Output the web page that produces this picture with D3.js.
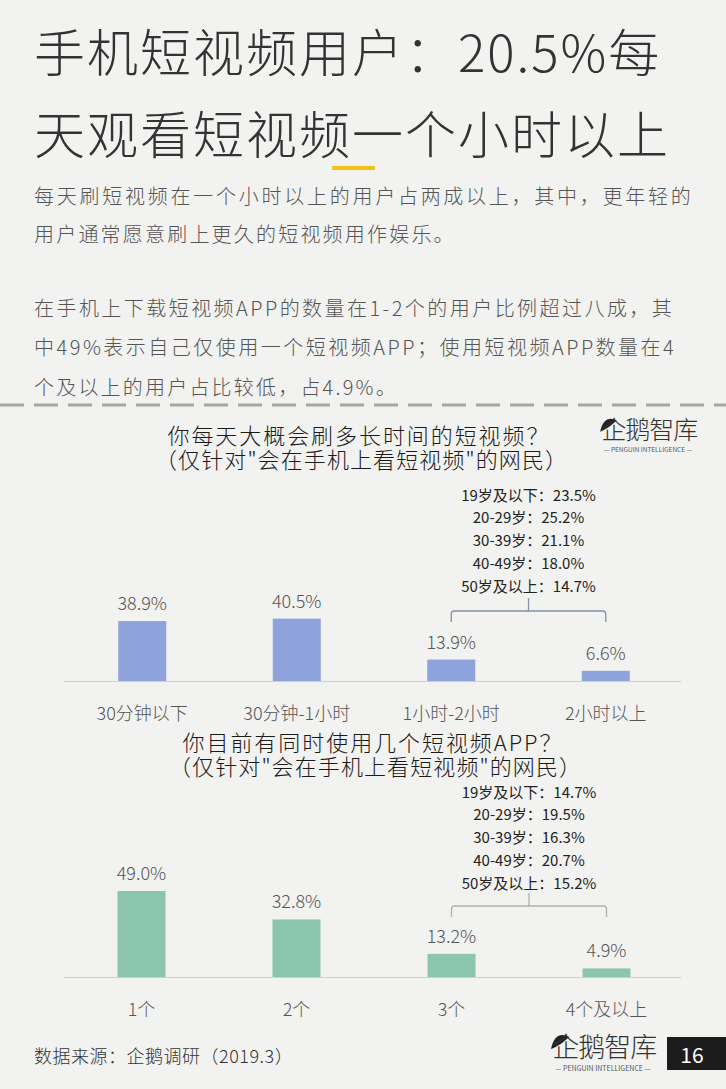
<!DOCTYPE html>
<html>
<head>
<meta charset="utf-8">
<script src="https://cdn.jsdelivr.net/npm/d3@7"></script>
<style>
  body { margin: 0; background: #f2f2f0; }
  svg { display: block; }
  text { font-family: "Noto Sans CJK SC", "Noto Sans", sans-serif; }
</style>
</head>
<body>
<svg width="726" height="1089"></svg>
<script>
// ---- data ----
var headline = ['手机短视频用户：20.5%每', '天观看短视频一个小时以上'];
var paragraph = [
  '每天刷短视频在一个小时以上的用户占两成以上，其中，更年轻的',
  '用户通常愿意刷上更久的短视频用作娱乐。',
  '在手机上下载短视频APP的数量在1-2个的用户比例超过八成，其',
  '中49%表示自己仅使用一个短视频APP；使用短视频APP数量在4',
  '个及以上的用户占比较低，占4.9%。'
];
var ageGroups = ['19岁及以下', '20-29岁', '30-39岁', '40-49岁', '50岁及以上'];

var timeTitle = ['你每天大概会刷多长时间的短视频？', '（仅针对"会在手机上看短视频"的网民）'];
var timeCats = ['30分钟以下', '30分钟-1小时', '1小时-2小时', '2小时以上'];
var timeVals = [38.9, 40.5, 13.9, 6.6];
var timeAgeVals = [23.5, 25.2, 21.1, 18.0, 14.7];

var appTitle = ['你目前有同时使用几个短视频APP？', '（仅针对"会在手机上看短视频"的网民）'];
var appCats = ['1个', '2个', '3个', '4个及以上'];
var appVals = [49.0, 32.8, 13.2, 4.9];
var appAgeVals = [14.7, 19.5, 16.3, 20.7, 15.2];

var sourceText = '数据来源：企鹅调研（2019.3）';
var pageNum = '16';

var svg = d3.select('svg');

// ---- header ----
svg.selectAll('.headline')
    .data(headline)
    .enter()
    .append('text')
    .attr('x', 34)
    .attr('y', function(d, i){ return 50 + i * 82; })
    .attr('dominant-baseline', 'central')
    .attr('font-size', 51)
    .attr('font-weight', 300)
    .attr('letter-spacing', 2)
    .attr('fill', '#333')
    .text(function(d){ return d; });

svg.append('rect')   // little yellow mark under the title
    .attr('x', 332).attr('y', 166)
    .attr('width', 43).attr('height', 4)
    .attr('fill', '#f2c418');

var paraY = [195, 233, 307, 346, 386];
var paraLen = [659, null, 640, 642, null];
svg.selectAll('.para')
    .data(paragraph)
    .enter()
    .append('text')
    .attr('x', 34)
    .attr('y', function(d, i){ return paraY[i]; })
    .attr('dominant-baseline', 'central')
    .attr('font-size', 20)
    .attr('font-weight', 300)
    .attr('fill', '#555')
    .attr('letter-spacing', 2.2)
    .each(function(d, i){
        if (paraLen[i]) d3.select(this).attr('textLength', paraLen[i]).attr('lengthAdjust', 'spacing');
    })
    .text(function(d){ return d; });

svg.append('line')
    .attr('x1', 0).attr('x2', 726)
    .attr('y1', 405).attr('y2', 405)
    .attr('stroke', '#a6a6a6')
    .attr('stroke-width', 3)
    .attr('stroke-dasharray', '24,10');

// ---- logo ----
function logo(x, y, size){
    var g = svg.append('g').attr('transform', 'translate(' + x + ',' + y + ')');
    // rough penguin head
    g.append('path')
        .attr('d', 'M2,' + (size * 0.15) + ' Q6,-' + (size * 0.55) + ' ' + (size * 0.75) + ',-' + (size * 0.3) +
            ' L' + (size * 0.45) + ',-' + (size * 0.05) + ' Q' + (size * 0.2) + ',' + (size * 0.1) + ' 2,' + (size * 0.15) + 'Z')
        .attr('fill', '#222');
    g.append('text')
        .attr('x', size * 2.05)
        .attr('y', 0)
        .attr('text-anchor', 'middle')
        .attr('dominant-baseline', 'central')
        .attr('font-size', size)
        .attr('font-weight', 300)
        .attr('fill', '#333')
        .attr('letter-spacing', -1)
        .text('企鹅智库');
    g.append('text')
        .attr('x', size * 2.0)
        .attr('y', size * 0.85)
        .attr('text-anchor', 'middle')
        .attr('dominant-baseline', 'central')
        .attr('font-size', size * 0.26)
        .attr('fill', '#555')
        .text('— PENGUIN  INTELLIGENCE —');
}
logo(598, 428, 25);
logo(549, 1045, 27);

// ---- bar chart helper ----
function barChart(opt){
    var x = d3.scalePoint()
        .domain(opt.cats)
        .range(opt.xRange)
        .padding(0.5);
    var y = d3.scaleLinear()
        .domain([0, 100])
        .range([opt.base, opt.base - opt.pxPer100]);
    var barW = 48;

    // two-line title as one text block
    svg.append('text')
        .attr('text-anchor', 'middle')
        .attr('dominant-baseline', 'central')
        .attr('font-size', 22)
        .attr('font-weight', 300)
        .attr('fill', '#1a1a1a')
        .selectAll('tspan')
        .data(opt.title)
        .enter()
        .append('tspan')
        .attr('x', function(d, i){ return opt.titleX[i]; })
        .attr('y', function(d, i){ return opt.titleY + i * 24; })
        .attr('textLength', function(d, i){ return opt.titleLen[i]; })
        .attr('lengthAdjust', 'spacing')
        .text(function(d){ return d; });

    svg.append('line')
        .attr('x1', 64).attr('x2', 681)
        .attr('y1', opt.base + 0.5).attr('y2', opt.base + 0.5)
        .attr('stroke', '#cfcfcf')
        .attr('stroke-width', 1.2);

    svg.selectAll(null)
        .data(opt.vals)
        .enter()
        .append('rect')
        .attr('x', function(d, i){ return x(opt.cats[i]) - barW / 2; })
        .attr('y', function(d){ return y(d); })
        .attr('width', barW)
        .attr('height', function(d){ return opt.base - y(d); })
        .attr('fill', opt.color);

    svg.selectAll(null)
        .data(opt.vals)
        .enter()
        .append('text')
        .attr('x', function(d, i){ return x(opt.cats[i]); })
        .attr('y', function(d){ return y(d) - 19; })
        .attr('text-anchor', 'middle')
        .attr('dominant-baseline', 'central')
        .attr('font-size', 18)
        .attr('font-weight', 300)
        .attr('fill', '#555')
        .text(function(d){ return d.toFixed(1) + '%'; });

    svg.selectAll(null)
        .data(opt.cats)
        .enter()
        .append('text')
        .attr('x', function(d){ return x(d); })
        .attr('y', opt.base + 31)
        .attr('text-anchor', 'middle')
        .attr('dominant-baseline', 'central')
        .attr('font-size', 18)
        .attr('font-weight', 300)
        .attr('fill', '#555')
        .text(function(d){ return d; });

    // bracket over the last two bars
    var x1 = x(opt.cats[2]), x2 = x(opt.cats[3]), xm = (x1 + x2) / 2;
    var by = opt.bracketY, r = 3;
    svg.append('path')
        .attr('d', 'M' + x1 + ',' + (by + 11) + ' L' + x1 + ',' + (by + r) +
            ' Q' + x1 + ',' + by + ' ' + (x1 + r) + ',' + by +
            ' L' + (x2 - r) + ',' + by + ' Q' + x2 + ',' + by + ' ' + x2 + ',' + (by + r) +
            ' L' + x2 + ',' + (by + 11) +
            ' M' + xm + ',' + by + ' L' + xm + ',' + (by - 13))
        .attr('fill', 'none')
        .attr('stroke', opt.bracketColor)
        .attr('stroke-width', 1.3);

    svg.selectAll(null)
        .data(ageGroups)
        .enter()
        .append('text')
        .attr('x', xm)
        .attr('y', function(d, i){ return opt.ageY + i * 22.8; })
        .attr('text-anchor', 'middle')
        .attr('dominant-baseline', 'central')
        .attr('font-size', 15)
        .attr('fill', '#222')
        .text(function(d, i){ return d + '：' + opt.ageVals[i].toFixed(1) + '%'; });
}

barChart({
    cats: timeCats, vals: timeVals, ageVals: timeAgeVals, title: timeTitle,
    titleX: [358, 361], titleY: 434, titleLen: [381, 412],
    xRange: [65, 683], base: 681, pxPer100: 154,
    color: '#8ea3dc', bracketY: 611, bracketColor: '#8590ad', ageY: 494
});

barChart({
    cats: appCats, vals: appVals, ageVals: appAgeVals, title: appTitle,
    titleX: [372, 375], titleY: 741, titleLen: [379, 412],
    xRange: [64, 684], base: 977, pxPer100: 175.5,
    color: '#8cc5ad', bracketY: 906, bracketColor: '#b0b0b0', ageY: 791
});

// ---- footer ----
svg.append('text')
    .attr('x', 34).attr('y', 1055)
    .attr('dominant-baseline', 'central')
    .attr('font-size', 18)
    .attr('font-weight', 300)
    .attr('letter-spacing', 0.5)
    .attr('fill', '#333')
    .text(sourceText);

svg.append('rect')
    .attr('x', 667).attr('y', 1037)
    .attr('width', 59).attr('height', 33)
    .attr('fill', '#1c1c1c');
svg.append('text')
    .attr('x', 692).attr('y', 1054)
    .attr('text-anchor', 'middle')
    .attr('dominant-baseline', 'central')
    .attr('font-size', 21)
    .attr('fill', '#fff')
    .text(pageNum);
</script>
</body>
</html>
